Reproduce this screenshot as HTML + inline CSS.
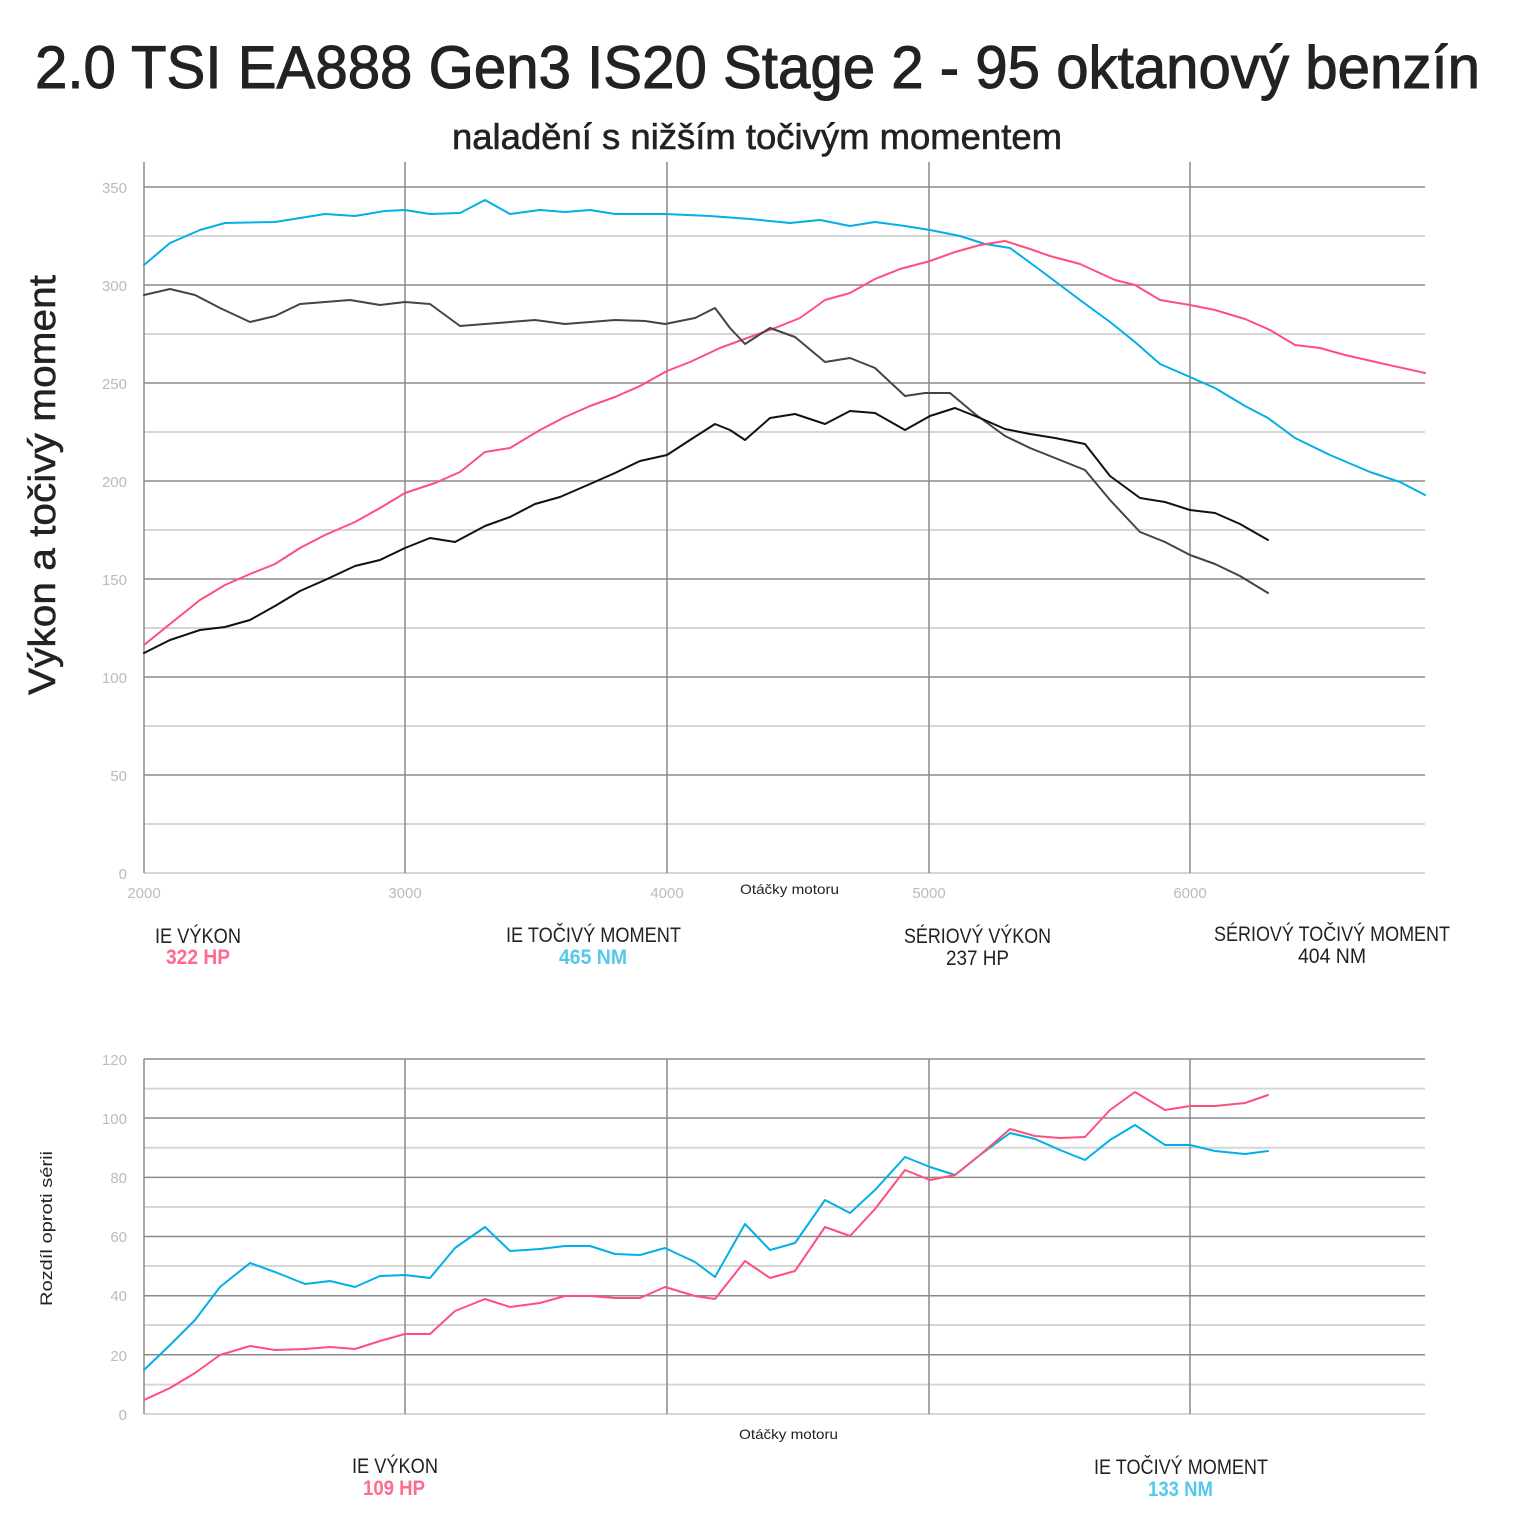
<!DOCTYPE html>
<html><head><meta charset="utf-8"><style>body{margin:0;background:#fff}svg{display:block}text{font-family:"Liberation Sans",sans-serif}</style></head><body>
<svg width="1515" height="1530" viewBox="0 0 1515 1530" xmlns="http://www.w3.org/2000/svg">
<text x="35" y="88" font-size="60" fill="#222" stroke="#222" stroke-width="1" textLength="1445" lengthAdjust="spacingAndGlyphs">2.0 TSI EA888 Gen3 IS20 Stage 2 - 95 oktanový benzín</text>
<text x="452" y="149" font-size="36" fill="#222" stroke="#222" stroke-width="0.6" textLength="610" lengthAdjust="spacingAndGlyphs">naladění s nižším točivým momentem</text>
<text transform="translate(55,695) rotate(-90)" font-size="38" fill="#222" stroke="#222" stroke-width="0.5" textLength="420" lengthAdjust="spacingAndGlyphs">Výkon a točivý moment</text>
<g stroke="#d6d6d6" stroke-width="2">
<line x1="144" x2="1425" y1="236" y2="236"/><line x1="144" x2="1425" y1="334" y2="334"/><line x1="144" x2="1425" y1="432" y2="432"/><line x1="144" x2="1425" y1="530" y2="530"/><line x1="144" x2="1425" y1="628" y2="628"/><line x1="144" x2="1425" y1="726" y2="726"/><line x1="144" x2="1425" y1="824" y2="824"/>
<line x1="144" x2="1425" y1="1088.6" y2="1088.6"/><line x1="144" x2="1425" y1="1147.7" y2="1147.7"/><line x1="144" x2="1425" y1="1207" y2="1207"/><line x1="144" x2="1425" y1="1266" y2="1266"/><line x1="144" x2="1425" y1="1325" y2="1325"/><line x1="144" x2="1425" y1="1384.6" y2="1384.6"/>
<line x1="144" x2="1425" y1="873" y2="873"/><line x1="144" x2="1425" y1="1414" y2="1414"/>
</g>
<g stroke="#8a8a8a" stroke-width="1.5">
<line x1="144" x2="1425" y1="187" y2="187"/><line x1="144" x2="1425" y1="285" y2="285"/><line x1="144" x2="1425" y1="383" y2="383"/><line x1="144" x2="1425" y1="481" y2="481"/><line x1="144" x2="1425" y1="579" y2="579"/><line x1="144" x2="1425" y1="677" y2="677"/><line x1="144" x2="1425" y1="775" y2="775"/>
<line x1="144" x2="144" y1="162" y2="873"/><line x1="405" x2="405" y1="162" y2="873"/><line x1="667" x2="667" y1="162" y2="873"/><line x1="929" x2="929" y1="162" y2="873"/><line x1="1190" x2="1190" y1="162" y2="873"/>
<line x1="144" x2="1425" y1="1059" y2="1059"/><line x1="144" x2="1425" y1="1118" y2="1118"/><line x1="144" x2="1425" y1="1177.4" y2="1177.4"/><line x1="144" x2="1425" y1="1236.5" y2="1236.5"/><line x1="144" x2="1425" y1="1295.7" y2="1295.7"/><line x1="144" x2="1425" y1="1354.8" y2="1354.8"/>
<line x1="144" x2="144" y1="1059" y2="1414"/><line x1="405" x2="405" y1="1059" y2="1414"/><line x1="667" x2="667" y1="1059" y2="1414"/><line x1="929" x2="929" y1="1059" y2="1414"/><line x1="1190" x2="1190" y1="1059" y2="1414"/>
</g>
<g fill="#bbb" font-size="15" text-anchor="end">
<text x="127" y="193">350</text><text x="127" y="291">300</text><text x="127" y="389">250</text><text x="127" y="487">200</text><text x="127" y="585">150</text><text x="127" y="683">100</text><text x="127" y="781">50</text><text x="127" y="879">0</text>
<text x="127" y="1065">120</text><text x="127" y="1124">100</text><text x="127" y="1183">80</text><text x="127" y="1242">60</text><text x="127" y="1301">40</text><text x="127" y="1361">20</text><text x="127" y="1420">0</text>
</g>
<g fill="#bbb" font-size="15" text-anchor="middle">
<text x="144" y="898">2000</text><text x="405" y="898">3000</text><text x="667" y="898">4000</text><text x="929" y="898">5000</text><text x="1190" y="898">6000</text>
</g>
<text x="740" y="894" font-size="14" fill="#222" textLength="99" lengthAdjust="spacingAndGlyphs">Otáčky motoru</text>
<text x="739" y="1439" font-size="14" fill="#222" textLength="99" lengthAdjust="spacingAndGlyphs">Otáčky motoru</text>
<text transform="translate(52,1306) rotate(-90)" font-size="17" fill="#222" textLength="155" lengthAdjust="spacingAndGlyphs">Rozdíl oproti sérii</text>
<g font-size="21" fill="#222" lengthAdjust="spacingAndGlyphs">
<text x="155" y="943" textLength="86" lengthAdjust="spacingAndGlyphs">IE VÝKON</text>
<text x="166" y="964" fill="#ff6b8e" font-weight="bold" textLength="64" lengthAdjust="spacingAndGlyphs">322 HP</text>
<text x="506" y="942" textLength="175" lengthAdjust="spacingAndGlyphs">IE TOČIVÝ MOMENT</text>
<text x="559" y="964" fill="#55c8ec" font-weight="bold" textLength="68" lengthAdjust="spacingAndGlyphs">465 NM</text>
<text x="904" y="943" textLength="147" lengthAdjust="spacingAndGlyphs">SÉRIOVÝ VÝKON</text>
<text x="946" y="965" textLength="63" lengthAdjust="spacingAndGlyphs">237 HP</text>
<text x="1214" y="941" textLength="236" lengthAdjust="spacingAndGlyphs">SÉRIOVÝ TOČIVÝ MOMENT</text>
<text x="1298" y="963" textLength="68" lengthAdjust="spacingAndGlyphs">404 NM</text>
<text x="352" y="1473" textLength="86" lengthAdjust="spacingAndGlyphs">IE VÝKON</text>
<text x="363" y="1495" fill="#ff6b8e" font-weight="bold" textLength="62" lengthAdjust="spacingAndGlyphs">109 HP</text>
<text x="1094" y="1474" textLength="174" lengthAdjust="spacingAndGlyphs">IE TOČIVÝ MOMENT</text>
<text x="1148" y="1496" fill="#55c8ec" font-weight="bold" textLength="65" lengthAdjust="spacingAndGlyphs">133 NM</text>
</g>
<g fill="none" stroke-width="2" stroke-linejoin="round" stroke-linecap="round">
<polyline stroke="#00b0e6" points="144,265 170,243 200,230 225,223 275,222 325,214 355,216 385,211 405,210 430,214 460,213 485,200 510,214 540,210 565,212 590,210 615,214 665,214 710,216 750,219 790,223 820,220 850,226 875,222 905,226 930,230 960,236 985,244 1010,248 1040,270 1080,300 1110,322 1135,342 1160,364 1190,377 1215,388 1245,406 1268,418 1295,438 1330,455 1370,472 1400,482 1425,495"/>
<polyline stroke="#ff4f7b" points="144,645 175,620 200,600 225,585 250,574 275,564 300,548 325,535 355,522 380,508 405,493 435,483 460,472 485,452 510,448 540,430 565,417 590,406 615,397 640,386 667,371 690,362 720,348 750,337 775,328 800,318 825,300 850,293 875,279 900,269 930,261 955,252 980,245 1005,241 1030,249 1050,256 1080,264 1115,280 1135,285 1160,300 1190,305 1215,310 1245,319 1270,330 1295,345 1320,348 1345,355 1380,363 1425,373"/>
<polyline stroke="#444" points="144,295 170,289 195,295 220,308 250,322 275,316 300,304 325,302 350,300 380,305 405,302 430,304 460,326 485,324 535,320 565,324 615,320 645,321 665,324 695,318 715,308 730,328 745,344 770,328 795,337 825,362 850,358 875,368 905,396 925,393 950,393 975,414 1005,436 1030,448 1055,458 1085,470 1110,500 1140,532 1165,542 1190,555 1215,564 1240,576 1268,593"/>
<polyline stroke="#111" points="144,653 170,640 200,630 225,627 250,620 275,606 300,591 325,580 355,566 380,560 405,548 430,538 455,542 485,526 510,517 535,504 560,497 590,484 615,473 640,461 667,455 690,440 715,424 730,430 745,440 770,418 795,414 825,424 850,411 875,413 905,430 930,416 955,408 980,418 1005,429 1030,434 1055,438 1085,444 1110,476 1140,498 1165,502 1190,510 1215,513 1240,524 1268,540"/>
<polyline stroke="#00b0e6" points="144,1370 170,1345 195,1320 220,1287 250,1263 275,1272 305,1284 330,1281 355,1287 380,1276 405,1275 430,1278 455,1248 485,1227 510,1251 540,1249 565,1246 590,1246 615,1254 640,1255 665,1248 695,1262 715,1277 745,1224 770,1250 795,1243 825,1200 850,1213 875,1190 905,1157 930,1167 955,1175 980,1155 1010,1133 1035,1139 1060,1150 1085,1160 1110,1140 1135,1125 1165,1145 1190,1145 1215,1151 1245,1154 1268,1151"/>
<polyline stroke="#ff4f7b" points="144,1400 170,1388 195,1373 220,1355 250,1346 275,1350 305,1349 330,1347 355,1349 380,1341 405,1334 430,1334 455,1311 485,1299 510,1307 540,1303 565,1296 590,1296 615,1298 640,1298 665,1287 695,1296 715,1299 745,1261 770,1278 795,1271 825,1227 850,1236 875,1209 905,1170 930,1180 955,1175 980,1155 1010,1129 1035,1136 1060,1138 1085,1137 1110,1110 1135,1092 1165,1110 1190,1106 1215,1106 1245,1103 1268,1095"/>
</g>
</svg>
</body></html>
